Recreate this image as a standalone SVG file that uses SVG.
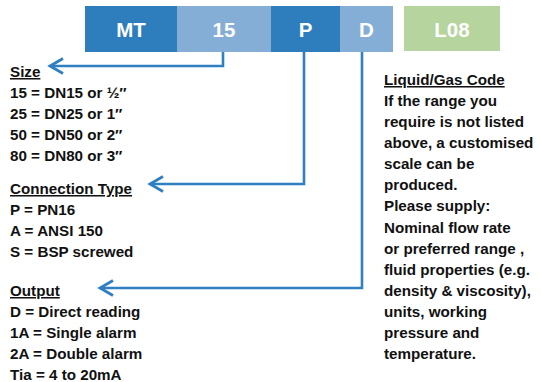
<svg xmlns="http://www.w3.org/2000/svg" width="541" height="382" viewBox="0 0 541 382">
<defs>
<style>
.dk{fill:#2e7dbd}
.lt{fill:#85aed6}
.gr{fill:#b5d49e}
.bl{font-family:"Liberation Sans",Arial,sans-serif;font-weight:bold;font-size:20.5px;fill:#ffffff;text-anchor:middle}
.tx{font-family:"Liberation Sans",Arial,sans-serif;font-weight:bold;font-size:15.2px;fill:#111111}
.ul{text-decoration:underline}
.conn{fill:none;stroke:#2f7fc1;stroke-width:2.6;marker-end:url(#ah)}
</style>
<marker id="ah" markerUnits="userSpaceOnUse" markerWidth="20" markerHeight="20" refX="14" refY="10" orient="auto">
<path d="M1 2.5 L14 10 L1 17.5" fill="none" stroke="#2f7fc1" stroke-width="2.8"/>
</marker>
</defs>
<g id="box-mt"><rect class="dk" x="85" y="6" width="92" height="46"/><text class="bl" x="131" y="36.5">MT</text></g>
<g id="box-15"><rect class="lt" x="177" y="6" width="94" height="46"/><text class="bl" x="224" y="36.5">15</text></g>
<g id="box-p"><rect class="dk" x="271" y="6" width="69" height="46"/><text class="bl" x="305.5" y="36.5">P</text></g>
<g id="box-d"><rect class="lt" x="340" y="6" width="53" height="46"/><text class="bl" x="366.5" y="36.5">D</text></g>
<g id="box-l08"><rect class="gr" x="404" y="6" width="96" height="45"/><text class="bl" x="452" y="36.5">L08</text></g>
<g id="connectors">
<path class="conn" d="M223 52 V66 H50"/>
<path class="conn" d="M304 52 V184 H150"/>
<path class="conn" d="M362 52 V288 H100"/>
</g>
<g id="size">
<text class="tx ul" x="10" y="77">Size</text>
<text class="tx" x="10" y="98">15 = DN15 or ½″</text>
<text class="tx" x="10" y="119">25 = DN25 or 1″</text>
<text class="tx" x="10" y="140">50 = DN50 or 2″</text>
<text class="tx" x="10" y="161">80 = DN80 or 3″</text>
</g>
<g id="connection-type">
<text class="tx ul" x="10" y="194">Connection Type</text>
<text class="tx" x="10" y="215">P = PN16</text>
<text class="tx" x="10" y="236">A = ANSI 150</text>
<text class="tx" x="10" y="257">S = BSP screwed</text>
</g>
<g id="output">
<text class="tx ul" x="10" y="296">Output</text>
<text class="tx" x="10" y="317">D = Direct reading</text>
<text class="tx" x="10" y="338">1A = Single alarm</text>
<text class="tx" x="10" y="359">2A = Double alarm</text>
<text class="tx" x="10" y="380">Tia = 4 to 20mA</text>
</g>
<g id="liquid-gas-code">
<text class="tx ul" x="384" y="85">Liquid/Gas Code</text>
<text class="tx" x="384" y="106">If the range you</text>
<text class="tx" x="384" y="127">require is not listed</text>
<text class="tx" x="384" y="148">above, a customised</text>
<text class="tx" x="384" y="169">scale can be</text>
<text class="tx" x="384" y="190">produced.</text>
<text class="tx" x="384" y="211">Please supply:</text>
<text class="tx" x="384" y="233">Nominal flow rate</text>
<text class="tx" x="384" y="254">or preferred range ,</text>
<text class="tx" x="384" y="275">fluid properties (e.g.</text>
<text class="tx" x="384" y="296">density &amp; viscosity),</text>
<text class="tx" x="384" y="317">units, working</text>
<text class="tx" x="384" y="338">pressure and</text>
<text class="tx" x="384" y="359">temperature.</text>
</g>
</svg>
